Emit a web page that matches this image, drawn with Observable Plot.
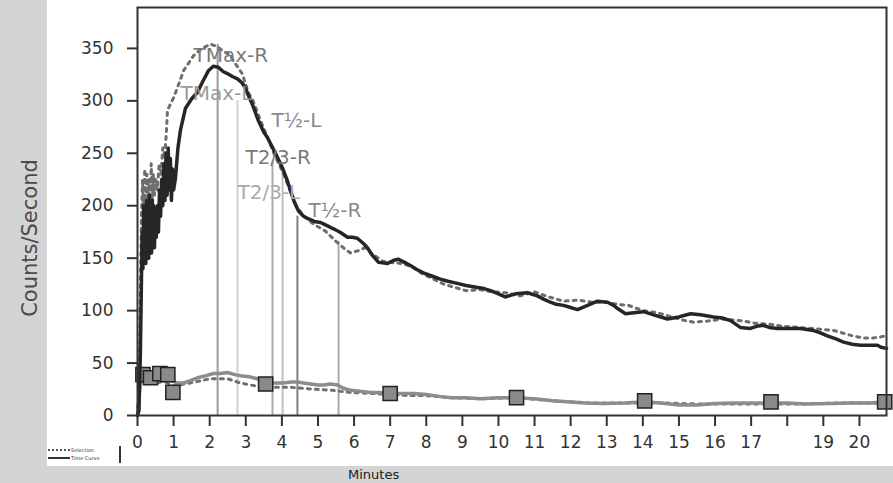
<!DOCTYPE html>
<html>
<head>
<meta charset="utf-8">
<script src="https://cdn.jsdelivr.net/npm/d3@7"></script>
<script src="https://cdn.jsdelivr.net/npm/@observablehq/plot@0.6"></script>
<style>
  html, body { margin: 0; padding: 0; background: #fff; }
  #wrap { position: relative; width: 893px; height: 483px; overflow: hidden;
    background: linear-gradient(to right, #d4d4d4 0px, #d4d4d4 47px, #ffffff 47px); }
  #ylabel { position: absolute; left: 30px; top: 238px; transform: translate(-50%, -50%) rotate(-90deg);
    font: 21px "DejaVu Sans", sans-serif; color: #4a4a4a; white-space: nowrap; }
  #bottom { position: absolute; left: 0; top: 466px; width: 893px; height: 17px; background: #d4d4d4; }
  #bottom span { position: absolute; left: 348px; top: 1px; font: 13px "DejaVu Sans", sans-serif; color: #222; }
  #legend { position: absolute; left: 47px; top: 446px; width: 72px; height: 17px; border-right: 2px solid #333;
    font: 5px "DejaVu Sans", sans-serif; color: #333; }
  #legend .row { position: relative; height: 8px; }
  #legend .ln { position: absolute; left: 1px; top: 3px; width: 22px; }
  #legend .tx { position: absolute; left: 24px; top: 0px; line-height: 8px; white-space: nowrap; }
</style>
</head>
<body>
<div id="wrap">
  <div id="chart"></div>
  <div id="ylabel">Counts/Second</div>
  <div id="legend">
    <div class="row"><div class="ln" style="border-top:2px dotted #555"></div><div class="tx">Selection</div></div>
    <div class="row"><div class="ln" style="border-top:2px solid #333"></div><div class="tx">Time Curve</div></div>
  </div>
  <div id="bottom"><span>Minutes</span></div>
</div>
<script>
// ---- Data ----
// Main curve (raw), time in minutes and counts/second
const mainT = [0, 0.04, 0.08, 0.11, 0.13, 0.15, 0.17, 0.19, 0.21, 0.23, 0.25, 0.27, 0.29, 0.31, 0.33, 0.35, 0.37, 0.39, 0.41, 0.43, 0.45, 0.47, 0.49, 0.52, 0.55, 0.58, 0.61, 0.64, 0.67, 0.70, 0.73, 0.76, 0.79, 0.82, 0.85, 0.88, 0.91, 0.94, 0.97, 1.00, 1.05, 1.12, 1.19, 1.33, 1.5, 1.66, 1.8, 1.97, 2.1, 2.24, 2.37, 2.49, 2.64, 2.77, 2.9, 2.99, 3.1, 3.19, 3.35, 3.5, 3.6, 3.72, 3.82, 3.95, 4.04, 4.15, 4.24, 4.35, 4.46, 4.6, 4.71, 4.9, 5.07, 5.25, 5.43, 5.6, 5.82, 5.95, 6.09, 6.26, 6.37, 6.5, 6.68, 6.93, 7.1, 7.23, 7.4, 7.56, 7.75, 7.92, 8.15, 8.39, 8.6, 8.86, 9.1, 9.42, 9.6, 9.78, 10.0, 10.19, 10.47, 10.8, 11.08, 11.25, 11.44, 11.6, 11.8, 12.0, 12.19, 12.47, 12.74, 13.02, 13.19, 13.3, 13.52, 13.75, 14.02, 14.3, 14.68, 15.0, 15.32, 15.6, 15.96, 16.2, 16.43, 16.7, 16.98, 17.15, 17.34, 17.5, 17.73, 18.0, 18.37, 18.73, 18.9, 19.11, 19.35, 19.56, 19.8, 20.03, 20.3, 20.5, 20.6, 20.75];
const mainV = [0, 5, 60, 130, 175, 140, 200, 150, 185, 145, 205, 155, 190, 150, 210, 160, 195, 155, 205, 165, 200, 160, 190, 170, 200, 175, 215, 190, 225, 200, 240, 205, 250, 210, 255, 215, 245, 205, 235, 215, 226, 255, 272, 293, 302, 308, 318, 329, 333, 332, 328, 326, 323, 321, 317, 312, 303, 296, 281, 270, 265, 257, 250, 241, 234, 224, 214, 203, 195, 190, 188, 185, 184, 181, 178, 175, 170, 170, 169, 164, 160, 153, 146, 145, 148, 149, 146, 143, 139, 136, 133, 130, 128, 126, 124, 122, 121, 119, 116, 113, 116, 117, 114, 111, 108, 106, 105, 103, 101, 105, 109, 108, 105, 102, 97, 98, 99, 96, 92, 94, 97, 96, 94, 93, 90.5, 84, 83, 85, 86, 84, 83, 83, 83, 81, 79, 76, 73, 70, 68, 67, 67, 67, 65, 64];

// Main curve (dotted)
const fitT = [0, 0.05, 0.08, 0.11, 0.14, 0.17, 0.2, 0.23, 0.26, 0.29, 0.32, 0.35, 0.38, 0.41, 0.44, 0.47, 0.5, 0.55, 0.6, 0.65, 0.7, 0.75, 0.8, 0.83, 0.9, 1.0, 1.1, 1.28, 1.38, 1.55, 1.75, 1.9, 2.02, 2.2, 2.35, 2.58, 2.66, 2.9, 3.07, 3.2, 3.4, 3.6, 3.8, 4.0, 4.2, 4.4, 4.6, 4.9, 5.2, 5.5, 5.7, 5.9, 6.1, 6.3, 6.5, 6.8, 7.0, 7.3, 7.6, 7.9, 8.2, 8.5, 8.8, 9.1, 9.5, 9.8, 10.2, 10.6, 11.0, 11.4, 11.8, 12.2, 12.6, 13.0, 13.3, 13.6, 14.0, 14.4, 14.8, 15.1, 15.4, 15.8, 16.2, 16.5, 16.8, 17.1, 17.5, 17.9, 18.3, 18.7, 19.0, 19.3, 19.6, 19.8, 20.1, 20.4, 20.6, 20.75];
const fitV = [0, 30, 120, 190, 225, 195, 235, 200, 230, 190, 225, 205, 240, 200, 230, 210, 225, 215, 240, 230, 255, 245, 270, 291, 296, 303, 312, 329, 334, 343, 349, 352, 354, 352, 348, 343, 338, 326, 308, 300, 282, 265, 248, 234, 217, 200, 190, 182, 176, 166, 160, 155, 157, 160, 154, 147, 146, 145, 142, 135, 130, 125, 122, 119, 120, 118, 117, 114, 118, 113, 109, 110, 108, 108, 106, 105, 100, 98, 94, 91, 89, 90, 92, 91, 90, 88, 87, 85, 84, 83, 82, 81, 78, 76, 74, 74, 75, 76];

// Lower curve (solid)
const lowT = [0, 0.05, 0.1, 0.15, 0.22, 0.36, 0.5, 0.72, 0.9, 1.1, 1.27, 1.45, 1.66, 1.9, 2.1, 2.3, 2.49, 2.7, 2.85, 3.1, 3.32, 3.5, 3.68, 3.85, 4.04, 4.25, 4.43, 4.6, 4.8, 5.0, 5.15, 5.35, 5.54, 5.7, 5.9, 6.2, 6.45, 6.7, 7.0, 7.3, 7.65, 8.0, 8.4, 8.7, 9.1, 9.5, 10.0, 10.5, 11.0, 11.5, 11.9, 12.4, 12.9, 13.5, 14.05, 14.5, 15.0, 15.5, 16.0, 16.5, 17.0, 17.55, 18.0, 18.5, 19.2, 19.8, 20.3, 20.75];
const lowV = [0, 20, 45, 40, 41, 36, 38, 41, 34, 31, 31, 33, 36, 38, 40, 40, 41, 39, 38, 37, 35, 33, 31, 31, 31, 32, 32, 31, 30, 29, 29, 30, 29, 26, 24, 23, 22, 22, 21, 21, 21, 20, 18, 17, 17, 16, 17, 17, 16, 14, 13, 12, 11.5, 12, 13, 12, 10, 10, 11.5, 12, 12, 12, 12, 11, 11.5, 12, 12, 13];

// Lower curve (dotted)
const lowFitT = [0, 0.05, 0.1, 0.2, 0.3, 0.5, 0.7, 1.0, 1.3, 1.6, 2.0, 2.5, 2.85, 3.3, 3.8, 4.2, 4.9, 5.4, 5.9, 6.5, 7.0, 7.5, 8.0, 8.7, 9.5, 10.5, 11.5, 12.5, 13.5, 14.5, 15.5, 16.5, 17.5, 18.5, 19.5, 20.2, 20.75];
const lowFitV = [0, 25, 40, 30, 35, 30, 33, 28, 30, 32, 35, 35, 31, 28, 27, 27, 25, 24, 22, 21, 20, 19, 19, 17, 16, 17, 14, 12, 12, 12, 11, 11, 11, 11, 12, 12, 11];

// Square markers on the lower curve
const squareT = [0.15, 0.36, 0.62, 0.84, 0.98, 3.55, 7.0, 10.5, 14.05, 17.55, 20.7];
const squareV = [39, 36, 40, 39, 22, 30, 21, 17, 14, 13, 13];

// Vertical time markers and their labels
const markerName  = ["TMax-R", "TMax-L", "T2/3-R", "T2/3-L", "T½-L", "T½-R"];
const markerT     = [2.22, 2.77, 3.74, 4.02, 4.43, 5.57];
const markerTop   = [354, 300, 242, 232, 190, 166];
const markerColor = ["#9a9a9a", "#d0d0d0", "#ababab", "#c0c0c0", "#808080", "#ababab"];
const labelT      = [1.55, 1.19, 2.99, 2.77, 3.71, 4.74];
const labelV      = [343, 307, 246, 213, 281, 195];
const labelColor  = ["#7a7a7a", "#9a9a9a", "#7a7a7a", "#ababab", "#8a8a8a", "#8a8a8a"];

// Axis ticks
const xTicks = [0, 1, 2, 3, 4, 5, 6, 7, 8, 9, 10, 11, 12, 13, 14, 15, 16, 17, 18, 19, 20];
const xTickLabels = ["0", "1", "2", "3", "4", "5", "6", "7", "8", "9", "10", "11", "12", "13", "14", "15", "16", "17", "", "19", "20"];
const yTicks = [0, 50, 100, 150, 200, 250, 300, 350];

// ---- Build tables ----
const zip = (T, V) => T.map((t, i) => ({t, v: V[i]}));
const mainData = zip(mainT, mainV);
const fitData = zip(fitT, fitV);
const lowData = zip(lowT, lowV);
const lowFitData = zip(lowFitT, lowFitV);
const squares = zip(squareT, squareV);
const markers = markerName.map((name, i) => ({name, t: markerT[i], top: markerTop[i], color: markerColor[i], lt: labelT[i], lv: labelV[i], lc: labelColor[i]}));

const font = "DejaVu Sans, sans-serif";

const chart = Plot.plot({
  width: 893,
  height: 466,
  marginLeft: 137,
  marginRight: 7,
  marginTop: 7,
  marginBottom: 51,
  style: {background: "transparent", fontFamily: font, color: "#333"},
  x: {domain: [0, 20.75]},
  y: {domain: [0, 389]},
  marks: [
    Plot.ruleX(markers, {x: "t", y1: 0, y2: "top", stroke: d => d.color, strokeWidth: 2}),
    Plot.line(lowFitData, {x: "t", y: "v", stroke: "#707070", strokeWidth: 3, strokeDasharray: "3 5"}),
    Plot.line(lowData, {x: "t", y: "v", stroke: "#8c8c8c", strokeWidth: 3.5}),
    Plot.dot(squares, {x: "t", y: "v", symbol: "square", r: 8, fill: "#8a8a8a", stroke: "#222", strokeWidth: 1.5}),
    Plot.line(fitData, {x: "t", y: "v", stroke: "#6e6e6e", strokeWidth: 3, strokeDasharray: "3 5"}),
    Plot.line(mainData, {x: "t", y: "v", stroke: "#262626", strokeWidth: 3.5, strokeLinejoin: "round"}),
    Plot.text(markers, {x: "lt", y: "lv", text: "name", fill: d => d.lc, textAnchor: "start", fontSize: 20, fontFamily: font}),
    Plot.frame({stroke: "#333", strokeWidth: 2}),
    Plot.axisX(xTicks, {tickSize: 11, tickPadding: 9, fontSize: 17, tickFormat: d => xTickLabels[xTicks.indexOf(d)], stroke: "#333", strokeWidth: 2, fill: "#333", label: null}),
    Plot.axisY(yTicks, {tickSize: 10, tickPadding: 14, fontSize: 17, stroke: "#333", strokeWidth: 2, fill: "#333", label: null})
  ]
});
document.getElementById("chart").appendChild(chart);
</script>
</body>
</html>
